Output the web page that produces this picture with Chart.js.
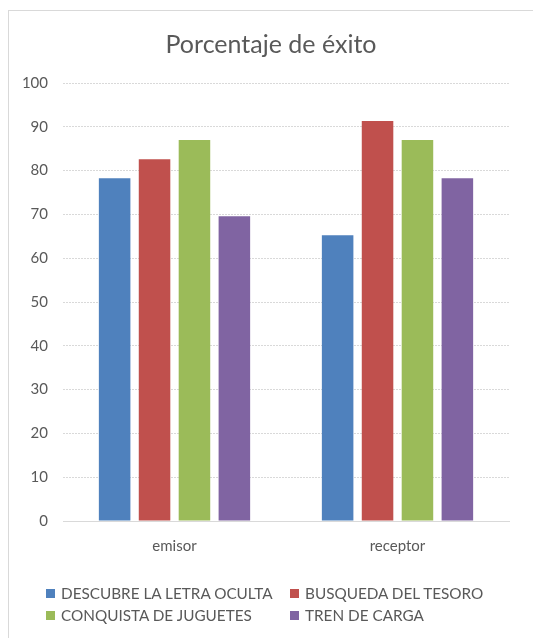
<!DOCTYPE html>
<html>
<head>
<meta charset="utf-8">
<script src="https://cdn.jsdelivr.net/npm/chart.js@4.4.1/dist/chart.umd.min.js"></script>
<style>
  html, body { margin: 0; padding: 0; background: #fff; }
  body { width: 533px; height: 638px; position: relative; overflow: hidden; font-family: Lato, "Open Sans", sans-serif; }
  #frame { position: absolute; left: 8px; top: 10px; width: 560px; height: 660px; border: 1px solid #d9d9d9; box-sizing: border-box; }
  #wrap { position: absolute; left: 0; top: 0; width: 533px; height: 561px; }
  #legend { position: absolute; left: 0; top: 0; width: 533px; height: 638px; pointer-events: none; }
  .item { position: absolute; display: flex; align-items: center; color: #595959; font-size: 15.3px; white-space: nowrap; line-height: 16px; }
  .item i { display: inline-block; width: 9px; height: 9px; margin-right: 6px; }
</style>
</head>
<body>
<div id="frame"></div>
<div id="wrap"><canvas id="c"></canvas></div>
<div id="legend"></div>
<script>
// Success rate per activity, for the sender and receiver roles
const categories = ['emisor', 'receptor'];
const seriesNames = ['DESCUBRE LA LETRA OCULTA', 'BUSQUEDA DEL TESORO', 'CONQUISTA DE JUGUETES', 'TREN DE CARGA'];
const descubre = [78.26, 65.22];
const busqueda = [82.61, 91.30];
const conquista = [86.96, 86.96];
const tren = [69.57, 78.26];
const yTicks = [0, 10, 20, 30, 40, 50, 60, 70, 80, 90, 100];
const colors = ['#4F81BD', '#C0504D', '#9BBB59', '#8064A2'];

const seriesValues = [descubre, busqueda, conquista, tren];
const textColor = '#595959';

// Centre the title over the whole frame rather than over the padded box
const titleShift = {
  id: 'titleShift',
  afterLayout(chart) {
    const t = chart.titleBlock;
    if (t) { t.left += 12.5; t.right += 12.5; }
  }
};

const chart = new Chart(document.getElementById('c'), {
  type: 'bar',
  data: {
    labels: categories,
    datasets: seriesNames.map((name, i) => ({
      label: name,
      data: seriesValues[i],
      backgroundColor: colors[i],
      borderWidth: 0,
      categoryPercentage: 0.716,
      barPercentage: 0.79
    }))
  },
  plugins: [titleShift],
  options: {
    responsive: true,
    maintainAspectRatio: false,
    animation: false,
    devicePixelRatio: 1,
    layout: { padding: { left: 8, right: 24, top: 21, bottom: 0 } },
    plugins: {
      legend: { display: false },
      tooltip: { enabled: false },
      title: {
        display: true,
        text: 'Porcentaje de éxito',
        color: textColor,
        font: { family: 'Lato', size: 25, weight: 'normal' },
        padding: { top: 9, bottom: 23 }
      }
    },
    scales: {
      x: {
        grid: { display: false, drawTicks: false },
        border: { display: true, color: '#d9d9d9', width: 1 },
        ticks: { color: textColor, font: { family: 'Lato', size: 15 }, padding: 16 },
        afterFit: s => { s.height = 40; }
      },
      y: {
        min: 0,
        max: 100,
        afterBuildTicks: s => { s.ticks = yTicks.map(v => ({ value: v })); },
        grid: { color: '#d9d9d9', drawTicks: false },
        border: { display: false, dash: [2, 1] },
        ticks: { color: textColor, font: { family: 'Lato', size: 15 }, padding: 15 },
        afterFit: s => { s.width = 55; }
      }
    }
  }
});

// Two-column legend built from the chart's own legend items
const legendEl = document.getElementById('legend');
const colX = [46, 290];
const rowY = [585, 607];
chart.legend.legendItems.forEach((item, i) => {
  const d = document.createElement('div');
  d.className = 'item';
  d.style.left = colX[i % 2] + 'px';
  d.style.top = rowY[Math.floor(i / 2)] + 'px';
  const sw = document.createElement('i');
  sw.style.background = item.fillStyle;
  d.appendChild(sw);
  d.appendChild(document.createTextNode(item.text));
  legendEl.appendChild(d);
});
</script>
</body>
</html>
